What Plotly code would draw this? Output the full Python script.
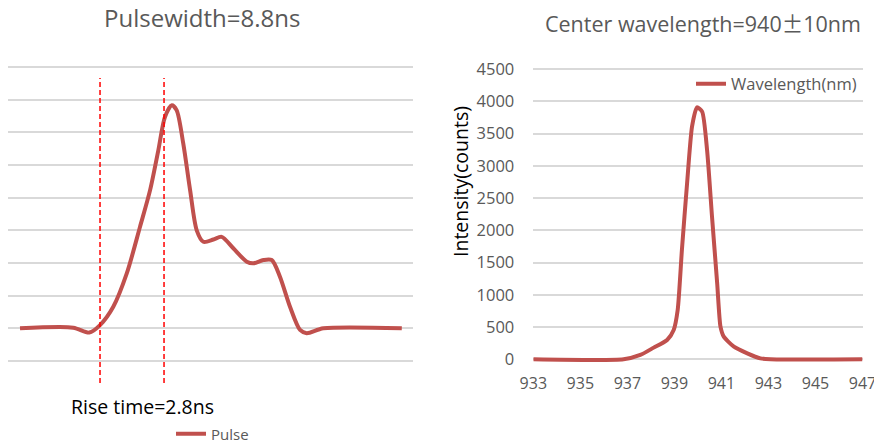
import plotly.graph_objects as go

# ---- Data ----
pulse_time_ns = [0.0, 2.33, 3.03, 3.5, 4.08, 4.67, 5.25, 5.69, 6.05, 6.34, 6.64, 6.85,
                 7.14, 7.44, 7.73, 8.02, 8.46, 8.82, 9.33, 9.92, 10.21, 10.65, 11.01,
                 11.37, 11.81, 12.25, 12.54, 13.27, 16.7]
pulse_level = [1.0, 1.02, 0.87, 1.1, 1.66, 2.68, 4.11, 5.23, 6.45, 7.47, 7.83, 7.68,
               6.66, 5.23, 4.0, 3.65, 3.72, 3.8, 3.45, 3.04, 2.99, 3.09, 3.09,
               2.58, 1.66, 0.95, 0.85, 1.0, 1.0]
rise_markers_ns = [3.5, 6.3]

wavelength_nm = [933, 936.84, 937.55, 938.12, 938.69, 938.97, 939.14, 939.32, 939.54,
                 939.75, 939.96, 940.18, 940.39, 940.6, 940.82, 940.96, 941.1, 941.53,
                 942.1, 942.66, 943.09, 947]
intensity_counts = [0, 0, 67, 181, 300, 455, 765, 1695, 2728, 3607, 3906, 3839, 3245,
                    2211, 1178, 506, 351, 196, 93, 15, 0, 0]
wl_ticks = [933, 935, 937, 939, 941, 943, 945, 947]

W, H = 874, 448
def px(x): return x / W
def py(y): return 1 - y / H

RED = "#C0504D"
GRID = "#D9D9D9"
GREY = "#595959"
FONT = "Open Sans"

L_PAD = 4 / 32.67
R_UNIT = 4500 / (359.3 - 69)
R_PAD = 4 * R_UNIT

fig = go.Figure()
fig.add_trace(go.Scatter(x=pulse_time_ns, y=pulse_level, mode="lines", name="Pulse",
                         line=dict(color=RED, width=4, shape="spline", smoothing=0.8),
                         xaxis="x", yaxis="y", legend="legend"))
fig.add_trace(go.Scatter(x=wavelength_nm, y=intensity_counts, mode="lines", name="Wavelength(nm)",
                         line=dict(color=RED, width=4, shape="spline", smoothing=0.6),
                         xaxis="x2", yaxis="y2", legend="legend2"))

for t in rise_markers_ns:
    fig.add_shape(type="line", xref="x", yref="paper", x0=t, x1=t, y0=py(383), y1=py(78),
                  line=dict(color="#FF0000", width=1.5, dash="5px,3px"))

fig.update_layout(
    width=W, height=H, margin=dict(l=0, r=0, t=0, b=0, autoexpand=False),
    paper_bgcolor="white", plot_bgcolor="white",
    font=dict(family=FONT, color=GREY),
    xaxis=dict(domain=[px(8), px(413)], range=[-0.525, 17.19], showgrid=False,
               showticklabels=False, zeroline=False, showline=False, ticks=""),
    yaxis=dict(domain=[py(361 + 4), py(67 - 4)], range=[-L_PAD, 9 + L_PAD], dtick=1,
               tick0=0, showgrid=True, gridcolor=GRID, gridwidth=1.5,
               showticklabels=False, zeroline=False, showline=False, ticks=""),
    xaxis2=dict(domain=[px(533.3), px(862.5)], range=[933, 947], tickvals=wl_ticks,
                showgrid=False, zeroline=False, showline=False, ticks="",
                ticklabeloverflow="allow",
                tickfont=dict(size=16, color=GREY), ticklabelstandoff=9, anchor="y2"),
    yaxis2=dict(domain=[py(359.3 + 4), py(69 - 4)], range=[-R_PAD, 4500 + R_PAD],
                dtick=500, tick0=0, showgrid=True,
                gridcolor=GRID, gridwidth=1.5, zeroline=False, showline=False, ticks="",
                tickfont=dict(size=16.5, color=GREY), ticklabelstandoff=18, anchor="x2"),
    showlegend=True,
    legend=dict(x=px(171), y=py(434), xanchor="left", yanchor="middle",
                font=dict(size=15, color=GREY), bgcolor="rgba(0,0,0,0)"),
    legend2=dict(x=px(691), y=py(84), xanchor="left", yanchor="middle",
                 font=dict(size=16.5, color=GREY), bgcolor="rgba(0,0,0,0)"),
)

fig.add_annotation(text="Pulsewidth=8.8ns", xref="paper", yref="paper", x=px(202), y=py(18),
                   xanchor="center", yanchor="middle",
                   showarrow=False, font=dict(size=24, color=GREY))
fig.add_annotation(text="Center wavelength=940<span style='font-family:Noto Sans CJK SC'>±</span>10nm",
                   xref="paper", yref="paper",
                   x=px(703), y=py(22), xanchor="center", yanchor="middle",
                   showarrow=False, font=dict(size=21.5, color=GREY))
fig.add_annotation(text="Rise time=2.8ns", xref="paper", yref="paper", x=px(142), y=py(406),
                   xanchor="center", yanchor="middle",
                   showarrow=False, font=dict(size=19.5, color="#000000"))
fig.add_annotation(text="Intensity(counts)", xref="paper", yref="paper", x=px(460), y=py(182),
                   xanchor="center", yanchor="middle",
                   showarrow=False, textangle=-90, font=dict(size=19.5, color="#000000"))

# remove the page's default 8px body margin so the figure sits at the window origin
fig.write_html("out.html", config={"displayModeBar": False},
               post_script="document.body.style.margin='0';")
